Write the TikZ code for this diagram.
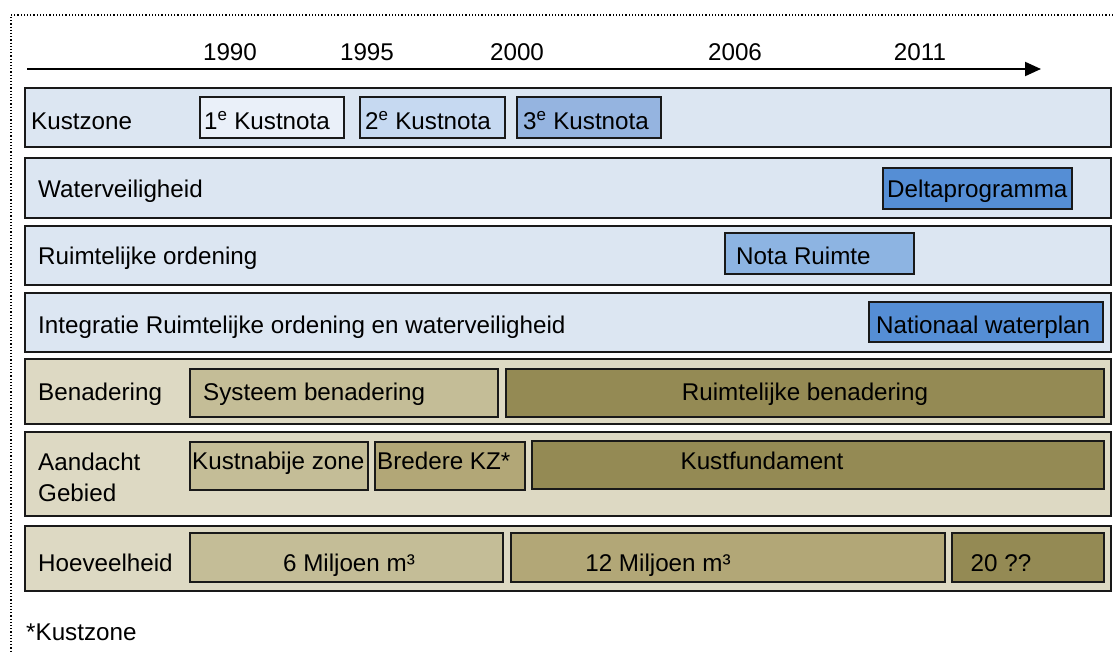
\documentclass[tikz,border=0pt]{standalone}
\usepackage{fontspec}
\setmainfont{Liberation Sans}
\usetikzlibrary{arrows.meta}
\definecolor{rowblue}{HTML}{DCE6F2}
\definecolor{rowtan}{HTML}{DDD9C3}
\definecolor{blueA}{HTML}{EAF0F9}
\definecolor{blueB}{HTML}{C6D9F1}
\definecolor{blueC}{HTML}{95B4E0}
\definecolor{blueD}{HTML}{8DB4E2}
\definecolor{blueE}{HTML}{558ED5}
\definecolor{tanA}{HTML}{C4BD97}
\definecolor{tanB}{HTML}{B2A777}
\definecolor{tanC}{HTML}{948A54}
\begin{document}
\begin{tikzpicture}[x=1pt, y=-1pt,
        row/.style={draw=black!90, line width=1.6pt},
        box/.style={draw=black!90, line width=1.4pt},
        txt/.style={anchor=base west, inner sep=0pt, font=\fontsize{24.2}{31}\selectfont},
        ctxt/.style={anchor=base, inner sep=0pt, font=\fontsize{24.2}{31}\selectfont}]
        \useasboundingbox (0,0) rectangle (1113,652);
        \draw[dotted, line width=1.2pt, black] (1113,15) -- (11,15) -- (11,652);
        \coordinate (ax0) at (27,69);
        \coordinate (ax1) at (1041,69);
        \draw[line width=2pt, -{Triangle[length=16pt,width=14pt]}] (ax0) -- (ax1);
        \foreach \yr/\x in {1990/230,1995/367,2000/517,2006/735,2011/920} {
            \node[ctxt] (y\yr) at (\x,61) {\yr};
        }
        \draw[row, fill=rowblue] (25,88) rectangle (1111,147);
        \node[txt] (kz) at (31,130) {Kustzone};
        \draw[box, fill=blueA] (200,97) rectangle (344,138);
        \node[txt] (kn1) at (204,130) {1\textsuperscript{e} Kustnota};
        \draw[box, fill=blueB] (360,97) rectangle (505,138);
        \node[txt] (kn2) at (365,130) {2\textsuperscript{e} Kustnota};
        \draw[box, fill=blueC] (517,97) rectangle (661,138);
        \node[txt] (kn3) at (523,130) {3\textsuperscript{e} Kustnota};
        \draw[row, fill=rowblue] (25,158) rectangle (1111,218);
        \node[txt] (wv) at (38,198) {Waterveiligheid};
        \draw[box, fill=blueE] (883,168) rectangle (1072,209);
        \node[txt] (dp) at (887,198) {Deltaprogramma};
        \draw[row, fill=rowblue] (25,226) rectangle (1111,285);
        \node[txt] (ro) at (38,265) {Ruimtelijke ordening};
        \draw[box, fill=blueD] (725,233) rectangle (914,274);
        \node[txt] (nr) at (736,265) {Nota Ruimte};
        \draw[row, fill=rowblue] (25,293) rectangle (1111,352);
        \node[txt] (ig) at (38,333) {Integratie Ruimtelijke ordening en waterveiligheid};
        \draw[box, fill=blueE] (869,302) rectangle (1103,342);
        \node[txt] (nw) at (876,333) {Nationaal waterplan};
        \draw[row, fill=rowtan] (25,359) rectangle (1111,424);
        \node[txt] (bn) at (38,400) {Benadering};
        \draw[box, fill=tanA] (190,369) rectangle (498,417);
        \node[txt] (sb) at (203,400) {Systeem benadering};
        \draw[box, fill=tanC] (506,369) rectangle (1104,417);
        \node[ctxt] (rb) at (805,400) {Ruimtelijke benadering};
        \draw[row, fill=rowtan] (25,432) rectangle (1111,516);
        \node[txt] (ag1) at (38,470) {Aandacht};
        \node[txt] (ag2) at (38,501) {Gebied};
        \draw[box, fill=tanA] (190,442) rectangle (368,490);
        \node[txt] (kzn) at (192,469) {Kustnabije zone};
        \draw[box, fill=tanB] (375,442) rectangle (525,490);
        \node[txt] (bkz) at (377,469) {Bredere KZ*};
        \draw[box, fill=tanC] (532,441) rectangle (1104,489);
        \node[ctxt] (kf) at (762,469) {Kustfundament};
        \draw[row, fill=rowtan] (25,526) rectangle (1111,591);
        \node[txt] (hv) at (38,571) {Hoeveelheid};
        \draw[box, fill=tanA] (190,533) rectangle (503,582);
        \node[ctxt] (m6) at (349,571) {6 Miljoen m³};
        \draw[box, fill=tanB] (511,533) rectangle (945,582);
        \node[ctxt] (m12) at (658,571) {12 Miljoen m³};
        \draw[box, fill=tanC] (952,533) rectangle (1104,582);
        \node[ctxt] (m20) at (1001,571) {20 ??};
        \node[txt] (fn) at (26,640) {*Kustzone};
\end{tikzpicture}
\end{document}
